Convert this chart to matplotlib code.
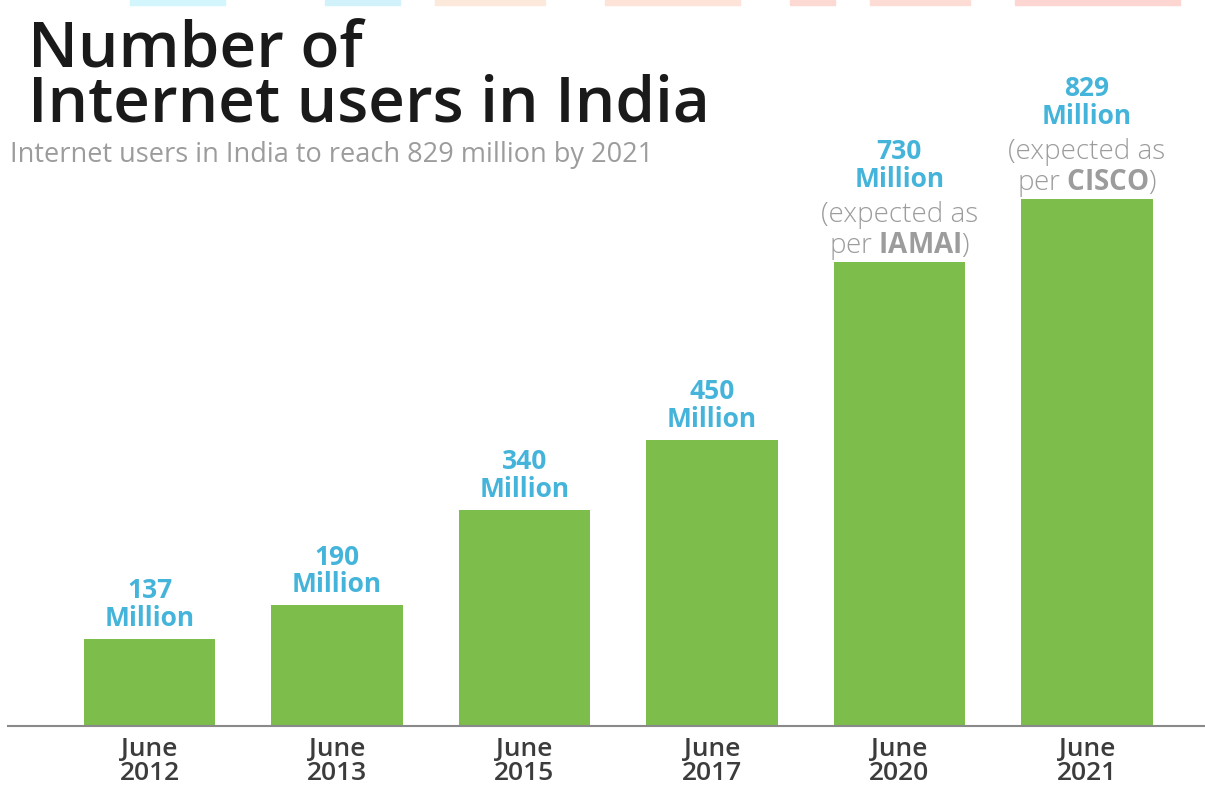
import matplotlib
matplotlib.use("Agg")
import matplotlib.pyplot as plt
from matplotlib.patches import Rectangle

categories = ["June\n2012", "June\n2013", "June\n2015", "June\n2017", "June\n2020", "June\n2021"]
values = [137, 190, 340, 450, 730, 829]
value_labels = ["137", "190", "340", "450", "730", "829"]
notes = [None, None, None, None, "IAMAI", "CISCO"]

title = "Number of\nInternet users in India"
subtitle = "Internet users in India to reach 829 million by 2021"

GREEN = "#7cbd4b"
BLUE = "#45b4da"
GRAY = "#9c9c9c"
DARK = "#3c3c3c"
FONT = ["Open Sans", "DejaVu Sans"]

plt.rcParams['font.family'] = FONT
plt.rcParams['mathtext.fontset'] = 'custom'
plt.rcParams['mathtext.rm'] = 'Open Sans:light'
plt.rcParams['mathtext.bf'] = 'Open Sans:bold'

W, H = 1205, 790
fig = plt.figure(figsize=(W / 100, H / 100), dpi=100)
fig.patch.set_facecolor("white")

# faint strips at the very top (remnants of a header)
for x0, x1, c in [(130, 225, "#d2f6fb"), (325, 400, "#d2f2fb"), (435, 545, "#fde9dc"),
                  (605, 740, "#fde3d8"), (790, 835, "#fdd9d4"), (870, 970, "#fddcd6"),
                  (1015, 1180, "#fdd6d2")]:
    fig.patches.append(Rectangle((x0 / W, 1 - 5 / H), (x1 - x0) / W, 5 / H,
                                 transform=fig.transFigure, color=c, zorder=0))

ax_left, ax_right = 8, 1205
ax_bottom, ax_top = 726, 100
ax = fig.add_axes([ax_left / W, 1 - ax_bottom / H, (ax_right - ax_left) / W, (ax_bottom - ax_top) / H])

x = list(range(len(categories)))
ax.bar(x, values, width=0.70, color=GREEN, zorder=2)
ax.set_xlim(-0.755, 5.63)
ax.set_ylim(0, 985)

for s in ["top", "right", "left"]:
    ax.spines[s].set_visible(False)
ax.spines["bottom"].set_color("#8a8a8a")
ax.spines["bottom"].set_linewidth(1.5)
ax.set_yticks([])
ax.set_xticks(x)
ax.set_xticklabels(categories, fontsize=19, color=DARK, fontweight="semibold", linespacing=0.93)
ax.tick_params(axis="x", length=0, pad=8)

for i, (v, lab, note) in enumerate(zip(values, value_labels, notes)):
    off = 5
    if note is not None:
        ax.annotate(f"(expected as\nper $\\mathbf{{{note}}}$)", (i, v), xytext=(0, 0),
                    textcoords="offset points", ha="center", va="bottom",
                    fontsize=20, color=GRAY, fontweight="light", linespacing=1.05,
                    multialignment="center")
        off = 50
    ax.annotate(f"{lab}\nMillion", (i, v), xytext=(0, off), textcoords="offset points",
                ha="center", va="bottom", fontsize=19, color=BLUE, fontweight="bold",
                linespacing=1.03, multialignment="center")

fig.text(28 / W, 1 - 137 / H, title, ha="left", va="bottom", fontsize=46,
         fontweight="semibold", color="#1a1a1a", linespacing=0.82)
fig.text(10 / W, 1 - 162 / H, subtitle, ha="left", va="baseline", fontsize=19.5,
         color=GRAY)

fig.savefig("out.png", dpi=100, facecolor="white")
